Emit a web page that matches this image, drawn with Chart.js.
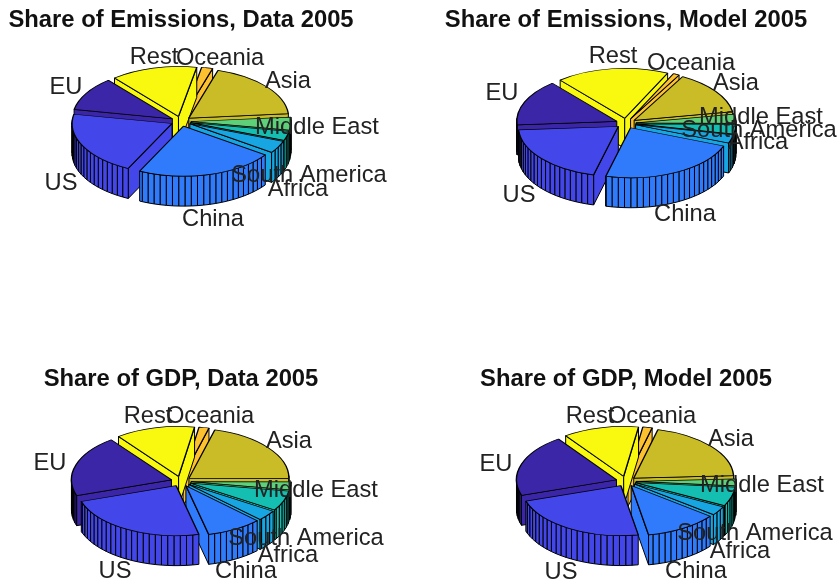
<!DOCTYPE html>
<html>
<head>
<meta charset="utf-8">
<title>Share of Emissions and GDP 2005</title>
<script src="https://cdn.jsdelivr.net/npm/chart.js@4"></script>
<style>
  html, body { margin: 0; background: #fff; overflow: hidden; width: 840px; height: 584px; }
  canvas { position: absolute; }
</style>
</head>
<body>
<canvas id="emisData" width="428" height="227" style="left:-33px;top:0"></canvas>
<canvas id="emisModel" width="428" height="227" style="left:412px;top:0"></canvas>
<canvas id="gdpData" width="428" height="227" style="left:-33px;top:359px"></canvas>
<canvas id="gdpModel" width="428" height="227" style="left:412px;top:359px"></canvas>
<script>
// Regiones, en el orden en que se recorre la tarta
const regiones = ["Asia", "Middle East", "South America", "Africa", "China", "US", "EU", "Rest", "Oceania"];

// Porcentajes leidos para cada panel
const emisionesDatos = [18.9, 4.2, 3.0, 4.0, 22.5, 20.8, 11.0, 14.0, 1.8];
const emisionesModelo = [14.2, 3.0, 3.1, 2.7, 23.1, 20.0, 15.0, 18.3, 1.0];
const pibDatos = [20.7, 2.5, 6.4, 3.3, 8.9, 23.3, 19.7, 12.7, 1.6];
const pibModelo = [20.1, 2.2, 6.1, 2.9, 11.6, 22.5, 20.0, 12.1, 1.5];

const colores = ["#c9bc27", "#5fd07a", "#14bfb2", "#18a6e2", "#2f7bfb", "#4347ea", "#3b26a8", "#f8f90f", "#fdc02f"];

// Donde va cada etiqueta respecto al centro de la tarta [dx, dy]
const etiquetasEmisionesDatos = [[107,-40],[136,6],[128,54],[117,68],[32,98],[-120,62],[-115,-34],[-27,-64],[39,-63]];
const etiquetasEmisionesModelo = [[110,-40],[135,-6],[133,7],[132,19],[59,91],[-107,72],[-124,-30],[-13,-67],[65,-60]];
const etiquetasPibDatos = [[108,-40],[135,9],[125,57],[107,74],[65,90],[-66,90],[-131,-18],[-33,-65],[29,-65]];
const etiquetasPibModelo = [[105,-42],[136,4],[129,52],[114,70],[70,90],[-65,91],[-130,-17],[-36,-65],[26,-65]];

const APLASTADO = 0.5;   // la vista 3D deja el circulo en una elipse
const ALTO = 30;         // altura del cilindro
const SEPARACION = 10;   // cuanto se separa cada porcion del centro
const PASO = Math.PI / 50; // ancho de cada faceta de la pared

// Pinta las porciones como un pie3: paredes primero y la tapa encima
const tarta3d = {
    id: "tarta3d",
    beforeDatasetsDraw(chart) {
        const ctx = chart.ctx;
        const arcos = chart.getDatasetMeta(0).data.slice();
        arcos.sort((a, b) => Math.sin((a.startAngle + a.endAngle) / 2) - Math.sin((b.startAngle + b.endAngle) / 2));

        arcos.forEach(arco => {
            const medio = (arco.startAngle + arco.endAngle) / 2;
            const ex = Math.cos(medio) * SEPARACION;
            const ey = Math.sin(medio) * SEPARACION;
            const cx = arco.x + ex;
            const cy = arco.y + ey * APLASTADO;
            const R = arco.outerRadius;
            const borde = a => [cx + R * Math.cos(a), cy + R * Math.sin(a) * APLASTADO];

            ctx.save();
            ctx.fillStyle = arco.options.backgroundColor;
            ctx.strokeStyle = "#000";
            ctx.lineWidth = 1;
            ctx.lineJoin = "round";

            const pared = puntos => {
                ctx.beginPath();
                puntos.forEach((p, i) => i ? ctx.lineTo(p[0], p[1]) : ctx.moveTo(p[0], p[1]));
                ctx.closePath();
                ctx.fill();
                ctx.stroke();
            };
            const corte = a => {
                const p = borde(a);
                pared([[cx, cy], p, [p[0], p[1] + ALTO], [cx, cy + ALTO]]);
            };

            // caras de los cortes, solo las que miran hacia delante
            if (Math.cos(arco.startAngle) < 0) corte(arco.startAngle);
            if (Math.cos(arco.endAngle) > 0) corte(arco.endAngle);

            // pared exterior por facetas
            for (let a = arco.startAngle; a < arco.endAngle - 1e-6; a += PASO) {
                const fin = Math.min(a + PASO, arco.endAngle);
                if (Math.sin(a) < -0.05 && Math.sin(fin) < -0.05) continue;
                const p = borde(a), q = borde(fin);
                pared([p, q, [q[0], q[1] + ALTO], [p[0], p[1] + ALTO]]);
            }

            // tapa: el propio arco de Chart.js, aplastado y desplazado
            ctx.translate(ex, arco.y + ey * APLASTADO);
            ctx.scale(1, APLASTADO);
            ctx.translate(0, -arco.y);
            arco.draw(ctx);
            ctx.restore();
        });
        return false;
    },
    // las etiquetas van por encima de todo
    afterDraw(chart, args, opts) {
        const ctx = chart.ctx;
        const arco = chart.getDatasetMeta(0).data[0];
        ctx.save();
        ctx.font = '23.7px "Liberation Sans"';
        ctx.fillStyle = "#222";
        ctx.textAlign = "center";
        ctx.textBaseline = "middle";
        chart.data.labels.forEach((texto, i) => {
            ctx.fillText(texto, arco.x + opts.lugares[i][0], arco.y + opts.lugares[i][1]);
        });
        ctx.restore();
    }
};

function crearTarta(id, titulo, valores, giro, lugares, abajo) {
    new Chart(document.querySelector(id), {
        type: "pie",
        data: {
            labels: regiones,
            datasets: [{
                data: valores,
                backgroundColor: colores,
                borderColor: "#000",
                borderWidth: 1.4,
                radius: 100,
                rotation: giro
            }]
        },
        options: {
            responsive: false,
            animation: false,
            events: [],
            layout: { padding: { bottom: abajo } },
            plugins: {
                legend: { display: false },
                tooltip: { enabled: false },
                title: {
                    display: true,
                    text: titulo,
                    color: "#111",
                    font: { family: '"Liberation Sans"', size: 23.8, weight: "bold" },
                    padding: { top: 6, bottom: 4 }
                },
                tarta3d: { lugares: lugares }
            }
        },
        plugins: [tarta3d]
    });
}

crearTarta("#emisData", "Share of Emissions, Data 2005", emisionesDatos, 17, etiquetasEmisionesDatos, 23);
crearTarta("#emisModel", "Share of Emissions, Model 2005", emisionesModelo, 29, etiquetasEmisionesModelo, 19);
crearTarta("#gdpData", "Share of GDP, Data 2005", pibDatos, 15, etiquetasPibDatos, 21);
crearTarta("#gdpModel", "Share of GDP, Model 2005", pibModelo, 14, etiquetasPibModelo, 21);
</script>
</body>
</html>
